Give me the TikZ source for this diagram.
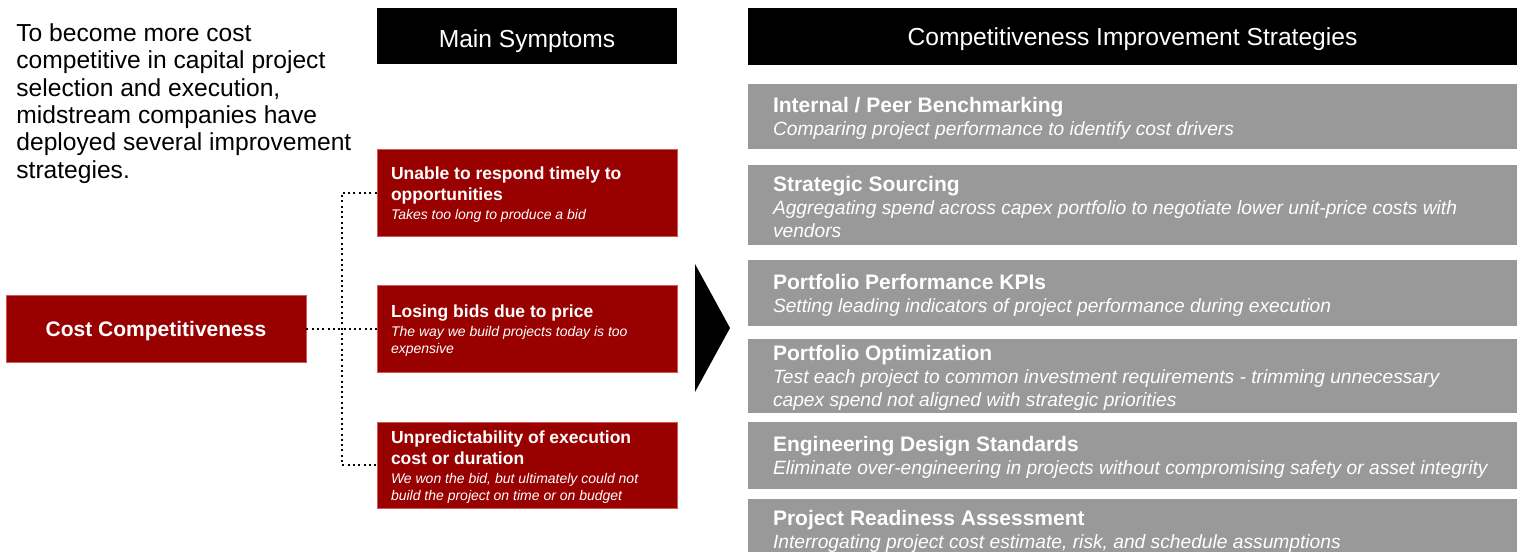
\documentclass[tikz,border=0pt]{standalone}
\usepackage{fontspec}
\setmainfont{Liberation Sans}
\usetikzlibrary{positioning}
\definecolor{symred}{RGB}{153,0,0}
\definecolor{symedge}{RGB}{205,90,90}
\definecolor{stratgray}{RGB}{153,153,153}
\newcommand\introfont{\fontsize{12.3}{13.7}\selectfont}
\newcommand\headfont{\fontsize{12.3}{14}\selectfont}
\newcommand\symtitle{\fontsize{8.75}{10.5}\selectfont\bfseries\upshape}
\newcommand\symnote{\fontsize{7}{8.5}\selectfont\mdseries\itshape}
\newcommand\strattitle{\fontsize{10.5}{12}\selectfont\bfseries\upshape}
\newcommand\stratnote{\fontsize{9.6}{11.6}\selectfont\mdseries\itshape}

\begin{document}
\begin{tikzpicture}[x=0.5pt,y=-0.5pt,
  header/.style={fill=black,text=white,font=\headfont,inner sep=0pt,text depth=0pt},
  redbox/.style={fill=symred,draw=symedge,line width=0.4pt,text=white,inner sep=0pt,minimum width=150pt},
  symtext/.style={text=white,align=left,inner sep=0pt,font=\symnote,yshift=-1pt},
  stratbox/.style={fill=stratgray,inner sep=0pt,minimum width=384.5pt},
  strattext/.style={text=white,align=left,inner sep=0pt,font=\stratnote,yshift=-1pt},
  link/.style={line width=1pt,dash pattern=on 1pt off 1.65pt}]
\useasboundingbox (0,0) rectangle (1523,552);

%intro text
\node[anchor=north west,inner sep=0pt,align=left,font=\introfont] (intro) at (16,23)
  {To become more cost\\competitive in capital project\\selection and execution,\\midstream companies have\\deployed several improvement\\strategies.};

%headers
\node[header,minimum width=150pt,minimum height=28pt,text height=11.2pt] (symhead) at (527,36) {Main Symptoms};
\node[header,minimum width=384.5pt,minimum height=28.5pt] (strathead) at (1132.5,36.5) {Competitiveness Improvement Strategies};

%root + symptoms
\node[redbox,minimum height=33.5pt,font=\strattitle,text depth=0pt] (cost) at (156,328.5) {Cost Competitiveness};
\node[redbox,minimum height=43.5pt] (sym1) at (527,192.5) {};
\node[redbox,minimum height=43.5pt] (sym2) at (527,328.5) {};
\node[redbox,minimum height=43pt] (sym3) at (527,465) {};
\node[symtext,right=7pt of sym1.west] (sym1txt)
  {\symtitle Unable to respond timely to\\[2pt]\symtitle opportunities\\[1pt]\symnote Takes too long to produce a bid};
\node[symtext,right=7pt of sym2.west] (sym2txt)
  {\symtitle Losing bids due to price\\[1pt]\symnote The way we build projects today is too\\\symnote expensive};
\node[symtext,right=7pt of sym3.west] (sym3txt)
  {\symtitle Unpredictability of execution\\[2pt]\symtitle cost or duration\\[1pt]\symnote We won the bid, but ultimately could not\\\symnote build the project on time or on budget};

%dotted tree
\coordinate (fork) at (342,328.5);
\draw[link] (cost.east) -- (sym2.west);
\draw[link] (sym1.west) -| (fork) |- (sym3.west);

%big arrow head
\fill (695,264) -- (730,328) -- (695,392) -- cycle;

%strategies
\node[stratbox,minimum height=32.5pt] (strat1) at (1132.5,116.5) {};
\node[stratbox,minimum height=40pt] (strat2) at (1132.5,205) {};
\node[stratbox,minimum height=33pt] (strat3) at (1132.5,293) {};
\node[stratbox,minimum height=37pt] (strat4) at (1132.5,376) {};
\node[stratbox,minimum height=33.5pt] (strat5) at (1132.5,455.5) {};
\node[stratbox,minimum height=30.5pt] (strat6) at (1132.5,529.5) {};
\node[strattext,right=12.5pt of strat1.west] (strat1txt)
  {\strattitle Internal / Peer Benchmarking\\\stratnote Comparing project performance to identify cost drivers};
\node[strattext,right=12.5pt of strat2.west] (strat2txt)
  {\strattitle Strategic Sourcing\\\stratnote Aggregating spend across capex portfolio to negotiate lower unit-price costs with\\\stratnote vendors};
\node[strattext,right=12.5pt of strat3.west] (strat3txt)
  {\strattitle Portfolio Performance KPIs\\\stratnote Setting leading indicators of project performance during execution};
\node[strattext,right=12.5pt of strat4.west] (strat4txt)
  {\strattitle Portfolio Optimization\\\stratnote Test each project to common investment requirements - trimming unnecessary\\\stratnote capex spend not aligned with strategic priorities};
\node[strattext,right=12.5pt of strat5.west] (strat5txt)
  {\strattitle Engineering Design Standards\\\stratnote Eliminate over-engineering in projects without compromising safety or asset integrity};
\node[strattext,right=12.5pt of strat6.west] (strat6txt)
  {\strattitle Project Readiness Assessment\\\stratnote Interrogating project cost estimate, risk, and schedule assumptions};
\end{tikzpicture}
\end{document}
